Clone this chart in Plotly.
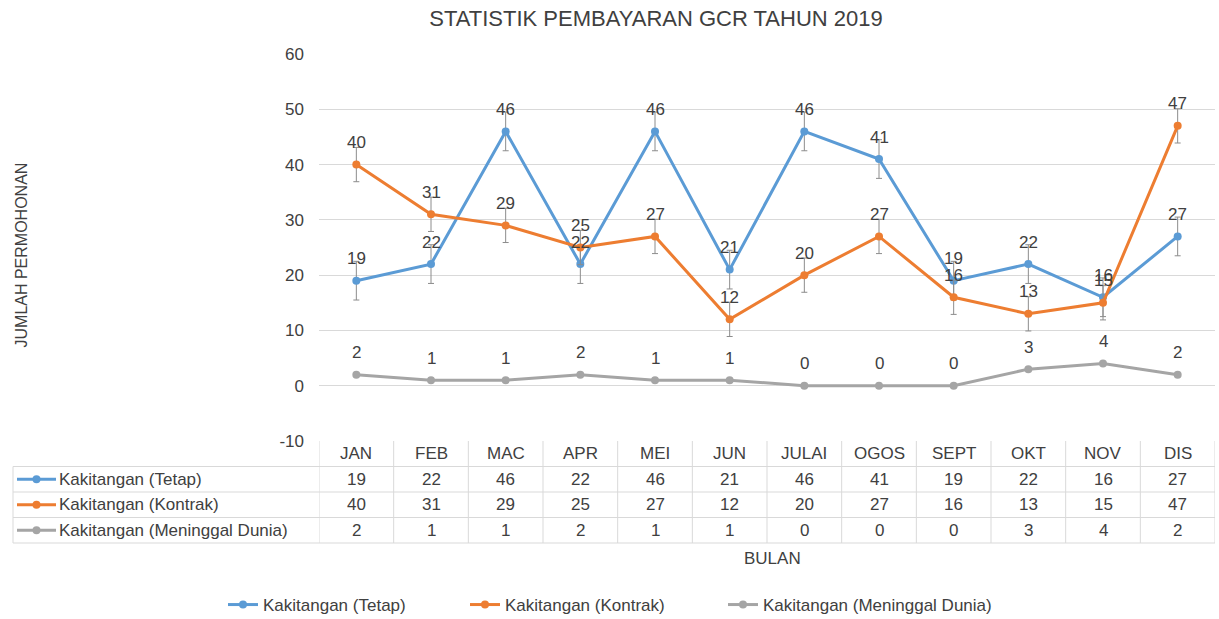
import plotly.graph_objects as go

# --- data -------------------------------------------------------------
bulan = ["JAN", "FEB", "MAC", "APR", "MEI", "JUN",
         "JULAI", "OGOS", "SEPT", "OKT", "NOV", "DIS"]
siri_nama = ["Kakitangan (Tetap)", "Kakitangan (Kontrak)",
             "Kakitangan (Meninggal Dunia)"]
tetap = [19, 22, 46, 22, 46, 21, 46, 41, 19, 22, 16, 27]
kontrak = [40, 31, 29, 25, 27, 12, 20, 27, 16, 13, 15, 47]
meninggal = [2, 1, 1, 2, 1, 1, 0, 0, 0, 3, 4, 2]
ralat_tetap = 3.5      # error bar (standard error) size
ralat_kontrak = 3.1
y_ticks = [-10, 0, 10, 20, 30, 40, 50, 60]

# --- style ------------------------------------------------------------
FONT = "Liberation Sans, Arial, sans-serif"
TXT = "#404040"
GRID = "#D9D9D9"
colors = ["#5B9BD5", "#ED7D31", "#A5A5A5"]
series = [tetap, kontrak, meninggal]
errors = [ralat_tetap, ralat_kontrak, None]
legend_ids = ["legend", "legend2", "legend3"]
legend_text_x = [263, 505, 763]     # left edge of each legend label, px

W, H = 1219, 619
L, R, T, B = 319, 4, 54, 178
PLOT_H = H - T - B
ROW = 25.5          # data-table row height, px


def py(px_from_axis_bottom):
    """pixel offset below the plot area -> paper y"""
    return -px_from_axis_bottom / PLOT_H


def px_x(px):
    """absolute pixel x -> paper x"""
    return (px - L) / (W - L - R)


fig = go.Figure()

for name, vals, col, err, lg in zip(siri_nama, series, colors, errors,
                                    legend_ids):
    fig.add_trace(go.Scatter(
        x=bulan, y=vals, name=name, mode="lines+markers",
        line=dict(color=col, width=3),
        marker=dict(color=col, size=8),
        error_y=(dict(type="constant", value=err, color="#8C8C8C",
                      thickness=1, width=3) if err else None),
        legend=lg, showlegend=True,
        hoverinfo="skip",
    ))

annotations = []
shapes = []

# data labels above each point
for vals in series:
    for m, v in zip(bulan, vals):
        annotations.append(dict(
            x=m, y=v, xref="x", yref="y", text=str(v), showarrow=False,
            yshift=22, font=dict(family=FONT, size=17, color=TXT)))

# data table under the axis
for m in bulan:
    annotations.append(dict(
        x=m, y=py(ROW / 2), xref="x", yref="paper", text=m,
        showarrow=False, yanchor="middle",
        font=dict(family=FONT, size=17, color=TXT)))
for r, vals in enumerate(series):
    yc = py(ROW * (r + 1.5))
    for m, v in zip(bulan, vals):
        annotations.append(dict(
            x=m, y=yc, xref="x", yref="paper", text=str(v),
            showarrow=False, yanchor="middle",
            font=dict(family=FONT, size=17, color=TXT)))

# table grid lines
left_edge = px_x(13)
for k in range(1, 5):
    shapes.append(dict(type="line", xref="paper", yref="paper",
                       x0=left_edge, x1=1, y0=py(ROW * k), y1=py(ROW * k),
                       line=dict(color=GRID, width=1), layer="below"))
for i in range(len(bulan) + 1):
    shapes.append(dict(type="line", xref="x", yref="paper",
                       x0=i - 0.5, x1=i - 0.5, y0=0, y1=py(ROW * 4),
                       line=dict(color=GRID, width=1), layer="below"))
shapes.append(dict(type="line", xref="paper", yref="paper",
                   x0=left_edge, x1=left_edge, y0=py(ROW), y1=py(ROW * 4),
                   line=dict(color=GRID, width=1), layer="below"))

# legend keys inside the table
for r, (name, col) in enumerate(zip(siri_nama, colors)):
    yc = py(ROW * (r + 1.5))
    shapes.append(dict(type="line", xref="paper", yref="paper",
                       x0=px_x(17), x1=px_x(56), y0=yc, y1=yc,
                       line=dict(color=col, width=3)))
    shapes.append(dict(type="circle", xref="paper", yref="paper",
                       x0=px_x(32.5), x1=px_x(40.5),
                       y0=yc - 4 / PLOT_H, y1=yc + 4 / PLOT_H,
                       fillcolor=col, line=dict(color=col, width=0)))
    annotations.append(dict(
        x=px_x(57), y=yc, xref="paper", yref="paper", text=name,
        showarrow=False, xanchor="left", yanchor="middle",
        font=dict(family=FONT, size=17, color=TXT)))

# axis titles
annotations.append(dict(
    x=px_x(18), y=(H - B - 255) / PLOT_H, xref="paper", yref="paper",
    text="JUMLAH PERMOHONAN", textangle=-90, showarrow=False, xshift=-8,
    font=dict(family=FONT, size=16, color=TXT)))
annotations.append(dict(
    x="JUN", y=py(558 - (H - B)), xref="x", yref="paper", text="BULAN",
    showarrow=False, xshift=43, yanchor="middle",
    font=dict(family=FONT, size=17, color=TXT)))

legend_style = {}
for lg, tx in zip(legend_ids, legend_text_x):
    legend_style[lg] = dict(
        orientation="h", xref="paper", yref="paper",
        x=px_x(tx - 40), xanchor="left",
        y=py(605 - (H - B)), yanchor="middle",
        bgcolor="rgba(0,0,0,0)", visible=True,
        font=dict(family=FONT, size=17, color=TXT))

fig.update_layout(
    width=W, height=H,
    showlegend=True,
    margin=dict(l=L, r=R, t=T, b=B, autoexpand=False),
    paper_bgcolor="white", plot_bgcolor="white",
    font=dict(family=FONT, size=17, color=TXT),
    title=dict(text="STATISTIK PEMBAYARAN GCR TAHUN 2019",
               font=dict(family=FONT, size=22, color=TXT),
               xref="paper", x=px_x(656), xanchor="center",
               yref="container", y=1 - 18 / H, yanchor="middle"),
    xaxis=dict(type="category", range=[-0.5, 11.5], showticklabels=False,
               showgrid=False, zeroline=False, showline=False, ticks=""),
    yaxis=dict(range=[-10, 60], tickvals=y_ticks,
               ticktext=[str(v) for v in y_ticks], showgrid=True,
               gridcolor=GRID, gridwidth=1, zeroline=False, showline=False,
               ticks="", ticklabelstandoff=14,
               tickfont=dict(family=FONT, size=17, color=TXT)),
    annotations=annotations,
    shapes=shapes,
    **legend_style,
)

fig.write_html("out.html")
